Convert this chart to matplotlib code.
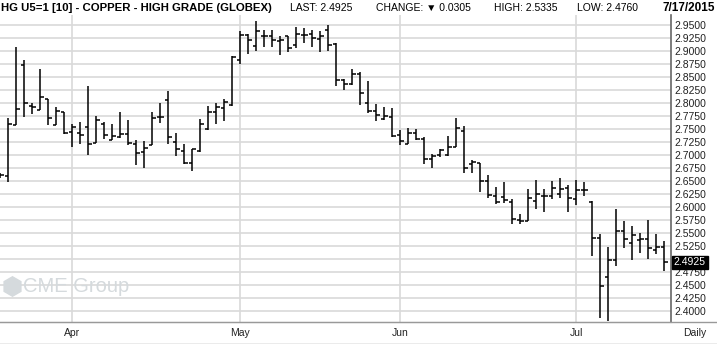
import pandas as pd
import matplotlib
matplotlib.use('Agg')
import matplotlib.pyplot as plt
from matplotlib.lines import Line2D
from matplotlib.transforms import blended_transform_factory

# trading days, 2015-03-19 .. 2015-07-17 (Good Friday, Memorial Day, Jul 3 closed)
dates = pd.bdate_range('2015-03-19', '2015-07-17')
dates = dates.drop(pd.to_datetime(['2015-04-03', '2015-05-25', '2015-07-03']))

opens = [2.660, 2.658, 2.757, 2.873, 2.793, 2.785, 2.807, 2.756, 2.781, 2.743,
         2.742, 2.753, 2.722, 2.758, 2.727, 2.734, 2.739, 2.721, 2.705, 2.719,
         2.772, 2.805, 2.725, 2.707, 2.683, 2.706, 2.750, 2.782, 2.789, 2.795,
         2.882, 2.929, 2.909, 2.927, 2.928, 2.918, 2.927, 2.910, 2.930, 2.932,
         2.923, 2.940, 2.913, 2.843, 2.836, 2.854, 2.800, 2.784, 2.768, 2.773,
         2.737, 2.720, 2.742, 2.730, 2.692, 2.700, 2.700, 2.714, 2.745, 2.682,
         2.683, 2.650, 2.621, 2.618, 2.608, 2.575, 2.572, 2.611, 2.620, 2.620,
         2.625, 2.636, 2.614, 2.632, 2.609, 2.539, 2.464, 2.498, 2.552, 2.529,
         2.536, 2.537, 2.516, 2.523]
highs = [2.664, 2.770, 2.906, 2.882, 2.800, 2.865, 2.807, 2.791, 2.782, 2.758,
         2.762, 2.832, 2.775, 2.762, 2.759, 2.781, 2.766, 2.727, 2.726, 2.781,
         2.800, 2.822, 2.741, 2.721, 2.711, 2.768, 2.793, 2.799, 2.807, 2.889,
         2.938, 2.931, 2.956, 2.940, 2.939, 2.927, 2.928, 2.945, 2.944, 2.940,
         2.938, 2.950, 2.914, 2.846, 2.864, 2.859, 2.841, 2.798, 2.791, 2.789,
         2.748, 2.751, 2.750, 2.734, 2.701, 2.710, 2.736, 2.770, 2.754, 2.689,
         2.684, 2.660, 2.638, 2.647, 2.615, 2.585, 2.634, 2.651, 2.634, 2.649,
         2.654, 2.642, 2.651, 2.647, 2.611, 2.547, 2.523, 2.596, 2.572, 2.563,
         2.550, 2.574, 2.547, 2.5335]
lows = [2.655, 2.647, 2.757, 2.772, 2.777, 2.785, 2.757, 2.756, 2.740, 2.715,
        2.720, 2.700, 2.722, 2.730, 2.727, 2.731, 2.718, 2.680, 2.675, 2.719,
        2.760, 2.721, 2.698, 2.682, 2.669, 2.704, 2.747, 2.759, 2.764, 2.793,
        2.875, 2.893, 2.900, 2.907, 2.907, 2.891, 2.897, 2.904, 2.914, 2.907,
        2.897, 2.900, 2.832, 2.825, 2.834, 2.796, 2.780, 2.765, 2.766, 2.734,
        2.718, 2.720, 2.727, 2.682, 2.675, 2.696, 2.698, 2.714, 2.664, 2.665,
        2.627, 2.616, 2.604, 2.606, 2.566, 2.566, 2.572, 2.595, 2.590, 2.614,
        2.616, 2.589, 2.602, 2.621, 2.504, 2.386, 2.380, 2.486, 2.521, 2.497,
        2.510, 2.500, 2.508, 2.476]
closes = [2.660, 2.758, 2.788, 2.800, 2.791, 2.811, 2.770, 2.783, 2.742, 2.753,
          2.738, 2.720, 2.766, 2.738, 2.735, 2.739, 2.722, 2.703, 2.712, 2.771,
          2.772, 2.734, 2.710, 2.684, 2.710, 2.758, 2.781, 2.791, 2.801, 2.888,
          2.929, 2.921, 2.938, 2.927, 2.920, 2.921, 2.904, 2.931, 2.930, 2.925,
          2.927, 2.911, 2.843, 2.835, 2.854, 2.818, 2.784, 2.776, 2.774, 2.735,
          2.726, 2.742, 2.730, 2.692, 2.697, 2.709, 2.714, 2.751, 2.675, 2.685,
          2.650, 2.622, 2.609, 2.613, 2.576, 2.572, 2.616, 2.624, 2.620, 2.635,
          2.634, 2.616, 2.632, 2.632, 2.539, 2.447, 2.498, 2.553, 2.537, 2.545,
          2.537, 2.521, 2.523, 2.4925]

price_ticks = [2.40 + 0.025 * k for k in range(23)]
last_price = 2.4925

W, H = 717, 344
fig = plt.figure(figsize=(W / 100, H / 100), dpi=100)
fig.patch.set_facecolor('white')
ax = fig.add_axes([0, 1 - 322 / H, 671 / W, (322 - 15) / H])

x = list(range(len(dates)))
grid_c = '#d9d9d9'

# grid
for p in price_ticks:
    ax.axhline(p, color=grid_c, lw=1.2, zorder=0)
month_pos = [i for i in range(1, len(dates)) if dates[i].month != dates[i - 1].month]
for i in month_pos:
    ax.axvline(i, color=grid_c, lw=1.2, zorder=0)

# OHLC bars
tw = 0.42
ax.vlines(x, lows, highs, color='black', lw=1.1, zorder=3)
ax.hlines(opens, [i - tw for i in x], x, color='black', lw=1.1, zorder=3)
ax.hlines(closes, x, [i + tw for i in x], color='black', lw=1.1, zorder=3)

ax.set_xlim(-0.04, 83.85)
ax.set_ylim(2.3779, 2.9683)

for s in ['top', 'left']:
    ax.spines[s].set_visible(False)
ax.spines['bottom'].set_color('#999999')
ax.spines['right'].set_color('#666666')
ax.spines['right'].set_linewidth(1.2)

ax.yaxis.tick_right()
ax.set_yticks(price_ticks)
ax.set_yticklabels(['' if abs(p - 2.5) < 1e-9 else f'{p:.4f}' for p in price_ticks],
                   fontsize=7.5, family='Liberation Sans', color='#222222')
ax.tick_params(axis='y', length=0, pad=2.5)

ax.set_xticks(month_pos)
ax.set_xticklabels([dates[i].strftime('%b') for i in month_pos],
                   fontsize=7.5, family='Liberation Sans', color='#222222')
ax.tick_params(axis='x', length=0, pad=4)

# last price box
tr = blended_transform_factory(ax.transAxes, ax.transData)
ax.text(1.004, last_price, f'{last_price:.4f}', transform=tr, ha='left', va='center',
        fontsize=7.5, family='Liberation Sans', color='white', clip_on=False,
        bbox=dict(boxstyle='square,pad=0.18', fc='black', ec='black'))

# header
ty = 1 - 8 / H
fig.text(1 / W, ty, 'HG U5=1 [10] - COPPER - HIGH GRADE (GLOBEX)', fontsize=8.2,
         fontweight='bold', family='Liberation Sans', va='center')
fig.text(290 / W, ty, 'LAST: 2.4925', fontsize=7.5, family='Liberation Sans', va='center')
fig.text(376 / W, ty, 'CHANGE: \u25bc 0.0305', fontsize=7.5,
         family=['Liberation Sans', 'DejaVu Sans'], va='center')
fig.text(494 / W, ty, 'HIGH: 2.5335', fontsize=7.5, family='Liberation Sans', va='center')
fig.text(577 / W, ty, 'LOW: 2.4760', fontsize=7.5, family='Liberation Sans', va='center')
fig.text(715 / W, ty, '7/17/2015', fontsize=8.5, fontweight='bold',
         family='Liberation Sans', va='center', ha='right')

fig.text(695 / W, 1 - 333 / H, 'Daily', fontsize=7.5, family='Liberation Sans',
         ha='center', va='center', color='#222222')

# frame lines across the full width
fig.add_artist(Line2D([0, 1], [1 - 322 / H, 1 - 322 / H], color='#999999', lw=1))
fig.add_artist(Line2D([0, 1], [0.5 / H, 0.5 / H], color='#999999', lw=1))

# watermark
fig.add_artist(Line2D([12 / W], [1 - 286 / H], marker='h', markersize=14,
                      color='#d5dadd', lw=0))
fig.text(23 / W, 1 - 286 / H, 'CME Group', fontsize=14.5, family='Liberation Sans',
         color='#d5dadd', va='center')

fig.savefig('out.png', dpi=100)
